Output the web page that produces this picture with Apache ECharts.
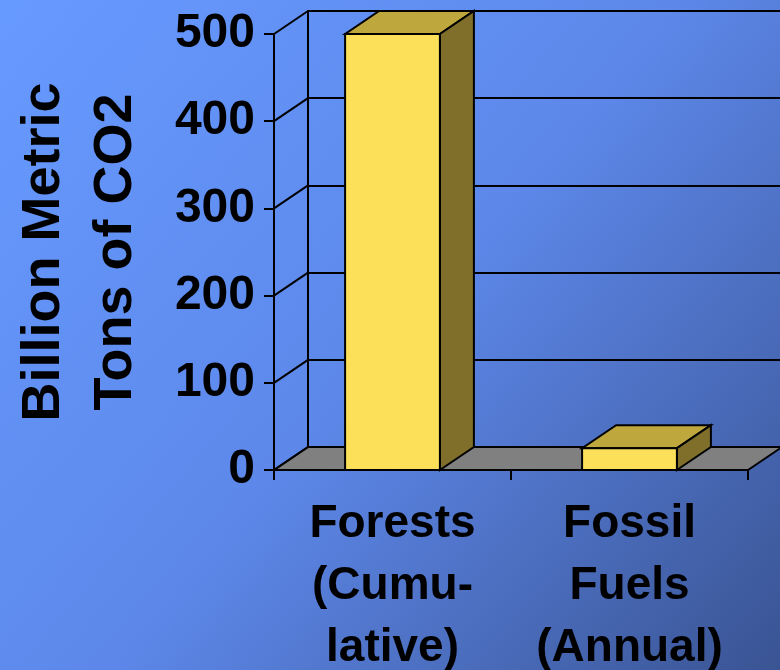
<!DOCTYPE html>
<html>
<head>
<meta charset="utf-8">
<script src="https://cdn.jsdelivr.net/npm/echarts@6/dist/echarts.min.js"></script>
<style>
  html, body { margin: 0; padding: 0; }
  #chart { width: 780px; height: 670px; }
</style>
</head>
<body>
<div id="chart"></div>
<script>
// data
const categories = ['Forests\n(Cumu-\nlative)', 'Fossil\nFuels\n(Annual)']
const co2Values = [500, 25]
const yTicks = [0, 100, 200, 300, 400, 500]

// 3D look
const DX = 34
const DY = 23
const BAR_RATIO = 0.4
const FRONT = '#fce05a'
const TOP = '#bea83e'
const SIDE = '#7f6f2b'
const FLOOR = '#808080'
const LINE = { stroke: '#000', lineWidth: 2, lineJoin: 'miter' }
const FONT = '"Liberation Sans", Arial, sans-serif'

const chart = echarts.init(document.getElementById('chart'))

const renderFloor = (params, api) => {
  const cs = params.coordSys
  const y = api.coord([0, 0])[1]
  return {
    type: 'polygon',
    shape: { points: [[cs.x, y], [cs.x + cs.width, y], [cs.x + cs.width + DX, y - DY], [cs.x + DX, y - DY]] },
    style: Object.assign({ fill: FLOOR }, LINE),
  }
}

const renderDiag = (params, api) => {
  const cs = params.coordSys
  const y = api.coord([0, api.value(0)])[1]
  return {
    type: 'line',
    shape: { x1: cs.x, y1: y, x2: cs.x + DX, y2: y - DY },
    style: LINE,
  }
}

const renderBar = (params, api) => {
  const base = api.coord([api.value(0), 0])
  const top = api.coord([api.value(0), api.value(1)])
  const w = api.size([1, 0])[0] * BAR_RATIO
  const x0 = base[0] - w / 2
  const x1 = base[0] + w / 2
  const y0 = base[1]
  const y1 = top[1]
  return {
    type: 'group',
    children: [
      {
        type: 'polygon',
        shape: { points: [[x0, y1], [x1, y1], [x1 + DX, y1 - DY], [x0 + DX, y1 - DY]] },
        style: Object.assign({ fill: TOP }, LINE),
      },
      {
        type: 'polygon',
        shape: { points: [[x1, y0], [x1 + DX, y0 - DY], [x1 + DX, y1 - DY], [x1, y1]] },
        style: Object.assign({ fill: SIDE }, LINE),
      },
      {
        type: 'rect',
        shape: { x: x0, y: y1, width: w, height: y0 - y1 },
        style: Object.assign({ fill: FRONT }, LINE),
      },
    ],
  }
}

chart.setOption({
  backgroundColor: {
    type: 'linear', x: 0, y: 0, x2: 1, y2: 1,
    colorStops: [
      { offset: 0, color: '#679aff' },
      { offset: 0.5, color: '#5d88ea' },
      { offset: 1, color: '#3a5493' },
    ],
  },
  animation: false,
  textStyle: { fontFamily: FONT },
  grid: [
    { left: 274, top: 34, width: 474, height: 436, outerBoundsMode: 'none' },
    { left: 274 + DX, top: 34 - DY, width: 474, height: 436, outerBoundsMode: 'none' },
  ],
  xAxis: [
    {
      gridIndex: 0,
      type: 'category',
      data: categories,
      axisLine: { lineStyle: { color: '#000', width: 2 } },
      axisTick: { show: true, length: 10, lineStyle: { color: '#000', width: 2 } },
      axisLabel: {
        color: '#000', fontSize: 46, fontWeight: 'bold', fontFamily: FONT,
        lineHeight: 62, margin: 23, interval: 0,
      },
    },
    { gridIndex: 1, type: 'category', data: categories, show: false },
  ],
  yAxis: [
    {
      gridIndex: 0,
      type: 'value',
      min: 0, max: 500, interval: 100,
      name: 'Billion Metric\nTons of CO2',
      nameLocation: 'middle',
      nameRotate: 90,
      nameGap: 122,
      nameTextStyle: { color: '#000', fontSize: 54, fontWeight: 'bold', fontFamily: FONT, lineHeight: 72 },
      axisLine: { show: true, lineStyle: { color: '#000', width: 2 } },
      axisTick: { show: true, length: 10, lineStyle: { color: '#000', width: 2 } },
      axisLabel: { color: '#000', fontSize: 48, fontWeight: 'bold', fontFamily: FONT, margin: 19 },
      splitLine: { show: false },
    },
    {
      gridIndex: 1,
      type: 'value',
      min: 0, max: 500, interval: 100,
      axisLine: { show: true, lineStyle: { color: '#000', width: 2 } },
      axisTick: { show: false },
      axisLabel: { show: false },
      splitLine: { show: true, lineStyle: { color: '#000', width: 2 } },
    },
  ],
  series: [
    {
      type: 'custom', xAxisIndex: 0, yAxisIndex: 0, z: 3, clip: false, silent: true,
      renderItem: renderFloor, data: [[0]],
    },
    {
      type: 'custom', xAxisIndex: 0, yAxisIndex: 0, z: 4, clip: false, silent: true,
      renderItem: renderDiag, data: yTicks.map(v => [v]),
    },
    {
      type: 'custom', xAxisIndex: 0, yAxisIndex: 0, z: 5, clip: false,
      renderItem: renderBar,
      data: co2Values.map((v, i) => [i, v]),
    },
  ],
})
</script>
</body>
</html>
